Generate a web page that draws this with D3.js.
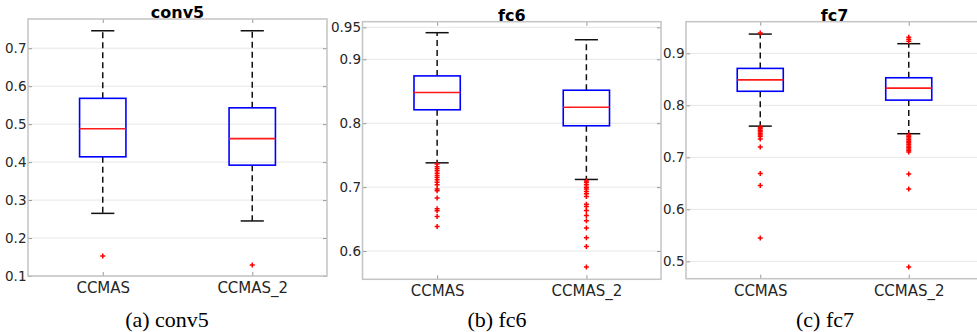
<!DOCTYPE html>
<html>
<head>
<meta charset="utf-8">
<script src="https://cdn.jsdelivr.net/npm/d3@7"></script>
<style>
  body { margin: 0; background: #fff; }
  svg { display: block; }
</style>
</head>
<body>
<svg id="chart" width="977" height="332"></svg>
<script>
// categories shared by all three panels
const categories = ["CCMAS", "CCMAS_2"];

// box stats per category: [lower whisker, q1, median, q3, upper whisker]
const conv5Box = [[0.265, 0.414, 0.488, 0.568, 0.746], [0.245, 0.392, 0.462, 0.543, 0.746]];
const fc6Box = [[0.738, 0.821, 0.848, 0.874, 0.9416], [0.712, 0.796, 0.825, 0.8516, 0.9306]];
const fc7Box = [[0.760, 0.827, 0.849, 0.871, 0.937], [0.7454, 0.810, 0.833, 0.853, 0.9185]];

// outliers per category
const conv5Outliers = [[0.153], [0.129]];
const fc6Outliers = [
  [0.736, 0.732, 0.7286, 0.7255, 0.7219, 0.7181, 0.715, 0.7114, 0.7078, 0.7036, 0.6969, 0.6942, 0.6828, 0.6661, 0.663, 0.6541, 0.6384],
  [0.7095, 0.7072, 0.7036, 0.700, 0.6969, 0.6931, 0.6895, 0.6853, 0.6734, 0.6697, 0.6634, 0.6556, 0.6473, 0.6359, 0.6208, 0.6072, 0.575]
];
const fc7Outliers = [
  [0.939, 0.758, 0.755, 0.752, 0.749, 0.746, 0.743, 0.740, 0.735, 0.720, 0.669, 0.646, 0.545],
  [0.931, 0.927, 0.923, 0.743, 0.740, 0.737, 0.734, 0.731, 0.728, 0.725, 0.722, 0.719, 0.716, 0.713, 0.710, 0.668, 0.639, 0.489]
];

// y tick values
const conv5Ticks = [0.1, 0.2, 0.3, 0.4, 0.5, 0.6, 0.7];
const fc6Ticks = [0.6, 0.7, 0.8, 0.9, 0.95];
const fc7Ticks = [0.5, 0.6, 0.7, 0.8, 0.9];

const titles = ["conv5", "fc6", "fc7"];
const captions = ["(a) conv5", "(b) fc6", "(c) fc7"];

// panel frames (pixels) and y limits
const panels = [
  { box: conv5Box, out: conv5Outliers, ticks: conv5Ticks, ylim: [0.1, 0.777], x0: 28, x1: 327, y0: 19, y1: 276, capX: 167 },
  { box: fc6Box, out: fc6Outliers, ticks: fc6Ticks, ylim: [0.5558, 0.9588], x0: 362.5, x1: 661, y0: 21.7, y1: 279.3, capX: 497 },
  { box: fc7Box, out: fc7Outliers, ticks: fc7Ticks, ylim: [0.4666, 0.9608], x0: 686, x1: 983, y0: 21.7, y1: 278.7, capX: 825 }
];

const svg = d3.select("#chart");
const font = "'DejaVu Sans', sans-serif";

panels.forEach((p, i) => {
  const g = svg.append("g");
  const x = d3.scalePoint().domain(categories).range([p.x0, p.x1]).padding(0.5);
  const y = d3.scaleLinear().domain(p.ylim).range([p.y1, p.y0]);
  const bw = x.step() * 0.31;

  // grid
  g.selectAll(".grid").data(p.ticks).join("line")
    .attr("x1", p.x0).attr("x2", p.x1)
    .attr("y1", d => y(d)).attr("y2", d => y(d))
    .attr("stroke", "#e6e6e6").attr("stroke-width", 1);

  // axes, ticks pointing inward
  const left = g.append("g").attr("transform", `translate(${p.x0},0)`)
    .call(d3.axisLeft(y).tickValues(p.ticks).tickFormat(d => String(d)).tickSizeInner(-4).tickSizeOuter(0).tickPadding(1.5));
  const right = g.append("g").attr("transform", `translate(${p.x1},0)`)
    .call(d3.axisRight(y).tickValues(p.ticks).tickFormat("").tickSizeInner(-4).tickSizeOuter(0));
  const bottom = g.append("g").attr("transform", `translate(0,${p.y1})`)
    .call(d3.axisBottom(x).tickSizeInner(-4).tickSizeOuter(0).tickPadding(6.5));
  const top = g.append("g").attr("transform", `translate(0,${p.y0})`)
    .call(d3.axisTop(x).tickFormat("").tickSizeInner(-4).tickSizeOuter(0));

  [left, right, bottom, top].forEach(a => {
    a.select(".domain").remove();
    a.selectAll(".tick line").attr("stroke", "#999");
    a.selectAll("text").attr("fill", "#262626").style("font-family", font);
  });
  left.selectAll("text").style("font-size", "13.5px");
  bottom.selectAll("text").style("font-size", "15px");

  // frame
  g.append("rect")
    .attr("x", p.x0).attr("y", p.y0)
    .attr("width", p.x1 - p.x0).attr("height", p.y1 - p.y0)
    .attr("fill", "none").attr("stroke", "#c4c4c4").attr("stroke-width", 1.5);

  // boxes
  const items = categories.map((c, k) => ({ c, s: p.box[k], out: p.out[k] }));
  const b = g.selectAll(".bx").data(items).join("g");

  // whiskers
  b.append("line").attr("x1", d => x(d.c)).attr("x2", d => x(d.c))
    .attr("y1", d => y(d.s[3])).attr("y2", d => y(d.s[4]))
    .attr("stroke", "#111").attr("stroke-width", 1.5).attr("stroke-dasharray", "6,4");
  b.append("line").attr("x1", d => x(d.c)).attr("x2", d => x(d.c))
    .attr("y1", d => y(d.s[1])).attr("y2", d => y(d.s[0]))
    .attr("stroke", "#111").attr("stroke-width", 1.5).attr("stroke-dasharray", "6,4");
  [0, 4].forEach(j => {
    b.append("line")
      .attr("x1", d => x(d.c) - bw / 4).attr("x2", d => x(d.c) + bw / 4)
      .attr("y1", d => y(d.s[j])).attr("y2", d => y(d.s[j]))
      .attr("stroke", "#111").attr("stroke-width", 1.5);
  });

  b.append("rect")
    .attr("x", d => x(d.c) - bw / 2).attr("width", bw)
    .attr("y", d => y(d.s[3])).attr("height", d => y(d.s[1]) - y(d.s[3]))
    .attr("fill", "none").attr("stroke", "#0000ff").attr("stroke-width", 1.6);
  b.append("line")
    .attr("x1", d => x(d.c) - bw / 2).attr("x2", d => x(d.c) + bw / 2)
    .attr("y1", d => y(d.s[2])).attr("y2", d => y(d.s[2]))
    .attr("stroke", "#ff1a1a").attr("stroke-width", 1.6);

  // outliers as "+"
  b.each(function(d) {
    d3.select(this).selectAll(".o").data(d.out).join("path")
      .attr("transform", v => `translate(${x(d.c)},${y(v)})`)
      .attr("d", "M-2.5,0H2.5M0,-2.5V2.5")
      .attr("stroke", "#ff0000").attr("stroke-width", 1.5);
  });

  // title
  g.append("text")
    .attr("x", (p.x0 + p.x1) / 2).attr("y", p.y0 - 1)
    .attr("text-anchor", "middle")
    .style("font-family", font).style("font-weight", "bold").style("font-size", "16px")
    .text(titles[i]);

  // caption
  g.append("text")
    .attr("x", p.capX).attr("y", 327)
    .attr("text-anchor", "middle")
    .style("font-family", "'Liberation Serif', 'Times New Roman', serif").style("font-size", "22px")
    .text(captions[i]);
});
</script>
</body>
</html>
